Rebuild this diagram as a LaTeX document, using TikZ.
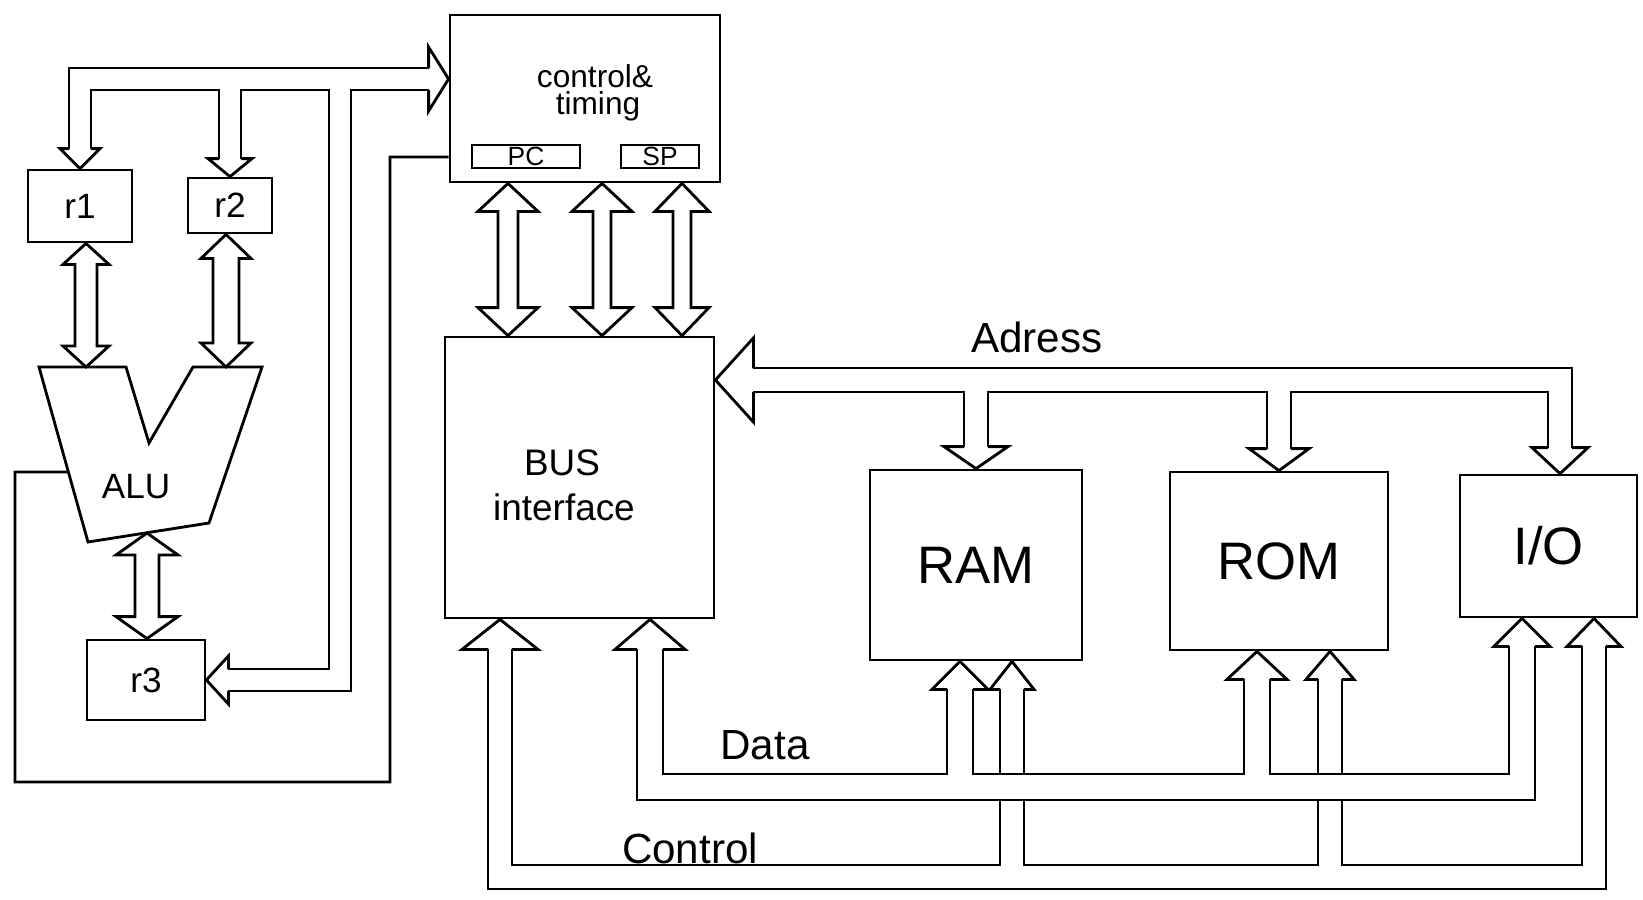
\documentclass[tikz,border=0pt]{standalone}
\usepackage{fontspec}
\setmainfont{Liberation Sans}
\usepackage{tikz}
\usetikzlibrary{calc, positioning}

% hollow heads: tip, half shaft, half head, length
\newcommand{\headup}[4]{\draw[wire] ($(#1)+(-#2,#4)$) -- ($(#1)+(-#3,#4)$) -- (#1) -- ($(#1)+(#3,#4)$) -- ($(#1)+(#2,#4)$);}
\newcommand{\headdown}[4]{\draw[wire] ($(#1)+(-#2,-#4)$) -- ($(#1)+(-#3,-#4)$) -- (#1) -- ($(#1)+(#3,-#4)$) -- ($(#1)+(#2,-#4)$);}
\newcommand{\headleft}[4]{\draw[wire] ($(#1)+(#4,-#2)$) -- ($(#1)+(#4,-#3)$) -- (#1) -- ($(#1)+(#4,#3)$) -- ($(#1)+(#4,#2)$);}
\newcommand{\headright}[4]{\draw[wire] ($(#1)+(-#4,-#2)$) -- ($(#1)+(-#4,-#3)$) -- (#1) -- ($(#1)+(-#4,#3)$) -- ($(#1)+(-#4,#2)$);}
% hollow double arrow, top to bottom
\newcommand{\dblarrow}[5]{\draw[wire] (#1) -- ($(#1)+(#4,#5)$) -- ($(#1)+(#3,#5)$) -- ($(#2)+(#3,-#5)$) -- ($(#2)+(#4,-#5)$) -- (#2) -- ($(#2)+(-#4,-#5)$) -- ($(#2)+(-#3,-#5)$) -- ($(#1)+(-#3,#5)$) -- ($(#1)+(-#4,#5)$) -- cycle;}
% bus as two lines: width, paths
\newcommand{\busnet}[2]{\draw[line width=#1+0.8pt] #2; \draw[white, line width=#1-0.8pt] #2;}

\begin{document}
\begin{tikzpicture}[x=0.1mm, y=-0.1mm,
    wire/.style={line width=0.8pt},
    blk/.style={draw, line width=0.8pt, inner sep=0pt},
    big/.style={font=\fontsize{15}{17}\selectfont},
    mid/.style={font=\fontsize{10.5}{12}\selectfont},
    lbl/.style={font=\fontsize{12}{14}\selectfont},
    sml/.style={font=\fontsize{10}{12}\selectfont},
    tiny/.style={font=\fontsize{7.5}{9}\selectfont}]
    \useasboundingbox (0,0) rectangle (1643,899);

    % 1. CPU blocks
    \node[blk, minimum width=27mm, minimum height=16.7mm] (ctrl) at (585,98.5) {};
    \node[font=\fontsize{9}{10}\selectfont] (ctrltxt) at (595,76) {control\&};
    \node[font=\fontsize{9}{10}\selectfont] (timtxt) at (598,106) {timing};
    \node[blk, tiny, minimum width=10.8mm, minimum height=2.3mm] (pc) at (526,156.5) {PC};
    \node[blk, tiny, minimum width=7.8mm, minimum height=2.3mm] (sp) at (660,156.5) {SP};
    \node[blk, minimum width=26.9mm, minimum height=28.1mm] (bif) at (579.5,477.5) {};
    \node[mid] (bustxt) at (562,463) {BUS};
    \node[mid] (iftxt) at (564,507) {interface};
    \node[blk, sml, minimum width=10.4mm, minimum height=7.2mm] (r1) at (80,206) {r1};
    \node[blk, sml, minimum width=8.4mm, minimum height=5.5mm] (r2) at (230,205.5) {r2};
    \node[blk, sml, minimum width=11.8mm, minimum height=8mm] (r3) at (146,680) {r3};

    % 2. ALU
    \coordinate (alutl) at (39,367);
    \coordinate (alubl) at (88,542);
    \draw[wire] (alutl) -- (126,367) -- (149,443) -- (193,367) -- (262,367) -- (209,523) -- (alubl) -- cycle;
    \node[sml] (alutxt) at (136,487) {ALU};
    \coordinate (alua) at (86,367);
    \coordinate (alub) at (226,367);
    \coordinate (aluo) at (147,533);

    % 3. memory blocks
    \node[blk, big, minimum width=21.2mm, minimum height=19mm] (ram) at (976,565) {RAM};
    \node[blk, big, minimum width=21.8mm, minimum height=17.8mm] (rom) at (1279,561) {ROM};
    \node[blk, big, minimum width=17.7mm, minimum height=14.2mm] (io) at (1548.5,546) {I/O};

    % 4. control bus
    \busnet{2.4mm}{($(bif.south -| 500,0)+(0,30)$) |- (1594,877) -- ($(io.south -| 1594,0)+(0,28)$)
        ($(ram.south -| 1012,0)+(0,28)$) -- (1012,877)
        ($(rom.south -| 1330,0)+(0,28)$) -- (1330,877)}
    \headup{bif.south -| 500,0}{12}{38}{30}
    \headup{ram.south -| 1012,0}{12}{22}{28}
    \headup{rom.south -| 1330,0}{12}{24}{28}
    \headup{io.south -| 1594,0}{12}{27}{28}
    \node[lbl] (ctltxt) at (690,848) {Control};

    % 5. data bus
    \busnet{2.6mm}{($(bif.south -| 650,0)+(0,30)$) |- (1522,787) -- ($(io.south -| 1522,0)+(0,28)$)
        ($(ram.south -| 960,0)+(0,28)$) -- (960,787)
        ($(rom.south -| 1257,0)+(0,28)$) -- (1257,787)}
    \headup{bif.south -| 650,0}{13}{35}{30}
    \headup{ram.south -| 960,0}{13}{28}{28}
    \headup{rom.south -| 1257,0}{13}{30}{28}
    \headup{io.south -| 1522,0}{13}{28}{28}
    \node[lbl] (datatxt) at (765,745) {Data};

    % 6. address bus
    \busnet{2.4mm}{($(bif.east |- 0,380)+(38,0)$) -| ($(io.north -| 1560,0)+(0,-26)$)
        ($(ram.north)+(0,-22)$) -- (ram.north |- 0,380)
        ($(rom.north)+(0,-22)$) -- (rom.north |- 0,380)}
    \headleft{bif.east |- 0,380}{12}{42}{38}
    \headdown{ram.north}{12}{32}{22}
    \headdown{rom.north}{12}{30}{22}
    \headdown{io.north -| 1560,0}{12}{28}{26}
    \node[lbl] (adrtxt) at (1037,337) {Adress};

    % 7. internal bus
    \busnet{2.2mm}{($(r1.north)+(0,-20)$) |- ($(ctrl.west |- 0,79)+(-20,0)$)
        ($(r2.north)+(0,-18)$) -- (r2.north |- 0,79)
        (340,79) |- ($(r3.east)+(22,0)$)}
    \headright{ctrl.west |- 0,79}{11}{32}{20}
    \headdown{r1.north}{11}{20}{20}
    \headdown{r2.north}{11}{22}{18}
    \headleft{r3.east}{11}{24}{22}

    % 8. double arrows
    \dblarrow{r1.south -| alua}{alua}{11}{23}{21}
    \dblarrow{r2.south -| alub}{alub}{13}{25}{24}
    \dblarrow{aluo}{r3.north -| aluo}{12}{31}{22}
    \dblarrow{ctrl.south -| 508,0}{bif.north -| 508,0}{10}{30}{28}
    \dblarrow{ctrl.south -| 602,0}{bif.north -| 602,0}{9}{30}{28}
    \dblarrow{ctrl.south -| 682,0}{bif.north -| 682,0}{9}{27}{28}

    % 9. control line to ALU
    \draw[wire] (ctrl.west |- 0,157) -| (390,782) -| (15,472) -- ($(alutl)!0.6!(alubl)$);
\end{tikzpicture}
\end{document}
